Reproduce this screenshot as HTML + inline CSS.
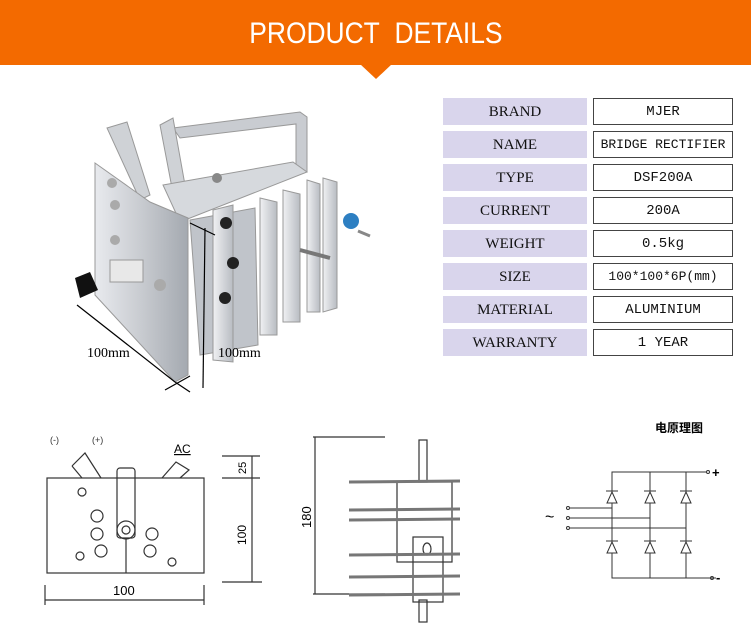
<!DOCTYPE html>
<html><head><meta charset="utf-8"><style>
body{margin:0;width:751px;height:624px;background:#fff;overflow:hidden;position:relative;font-family:"Liberation Sans",sans-serif}
.hdr{position:absolute;left:0;top:0;width:751px;height:65px;background:#f36a00;color:#fff;font-size:30px;text-align:center;line-height:68px}
.hdr span{display:inline-block;transform:scaleX(0.88)}
.notch{position:absolute;left:360px;top:64px;width:0;height:0;border-left:16px solid transparent;border-right:16px solid transparent;border-top:15px solid #f36a00}
.l{position:absolute;left:443px;width:144px;height:27px;background:#d9d5ec;font-family:"Liberation Serif",serif;font-size:15px;text-align:center;line-height:28px;color:#111}
.r{position:absolute;left:593px;width:138px;height:25px;border:1px solid #444;font-family:"Liberation Mono",monospace;font-size:14px;text-align:center;line-height:26px;color:#111;white-space:nowrap}
</style></head><body>
<div class="hdr"><span>PRODUCT&nbsp; DETAILS</span></div><div class="notch"></div>
<div class="l" style="top:98px">BRAND</div><div class="r" style="top:98px">MJER</div>
<div class="l" style="top:131px">NAME</div><div class="r" style="top:131px;font-size:13px">BRIDGE RECTIFIER</div>
<div class="l" style="top:164px">TYPE</div><div class="r" style="top:164px">DSF200A</div>
<div class="l" style="top:197px">CURRENT</div><div class="r" style="top:197px">200A</div>
<div class="l" style="top:230px">WEIGHT</div><div class="r" style="top:230px">0.5kg</div>
<div class="l" style="top:263px">SIZE</div><div class="r" style="top:263px;font-size:13px">100*100*6P(mm)</div>
<div class="l" style="top:296px">MATERIAL</div><div class="r" style="top:296px">ALUMINIUM</div>
<div class="l" style="top:329px">WARRANTY</div><div class="r" style="top:329px">1 YEAR</div>
<svg width="751" height="624" style="position:absolute;left:0;top:0" font-family="Liberation Sans,sans-serif">
<defs><linearGradient id="al" x1="0" x2="1"><stop offset="0" stop-color="#e8eaee"/><stop offset="0.5" stop-color="#c8cbd0"/><stop offset="1" stop-color="#a4a9b0"/></linearGradient>
<linearGradient id="fin" x1="0" x2="1"><stop offset="0" stop-color="#f0f1f3"/><stop offset="1" stop-color="#b8bcc2"/></linearGradient></defs>
<!-- photo -->
<polygon points="173,128 300,112 307,117 307,172 296,172 296,124 180,138" fill="#c9ccd1" stroke="#999"/>
<polygon points="107,128 127,122 150,195 140,200" fill="#cfd2d6" stroke="#999"/>
<polygon points="160,125 173,118 185,185 172,188" fill="#cfd2d6" stroke="#999"/>
<polygon points="323,178 337,182 337,308 323,312" fill="url(#fin)" stroke="#999"/>
<polygon points="307,180 320,184 320,312 307,312" fill="url(#fin)" stroke="#999"/>
<polygon points="283,190 300,194 300,322 283,322" fill="url(#fin)" stroke="#999"/>
<polygon points="260,198 277,202 277,335 260,335" fill="url(#fin)" stroke="#999"/>
<polygon points="190,220 255,208 258,345 200,355" fill="#c0c4ca" stroke="#999"/>
<polygon points="213,210 233,205 233,362 213,360" fill="url(#fin)" stroke="#999"/>
<polygon points="163,185 293,162 307,172 180,222" fill="#d6d9dd" stroke="#999"/>
<polygon points="95,163 150,202 188,218 188,375 175,382 95,295" fill="url(#al)" stroke="#999"/>
<circle cx="112" cy="183" r="5" fill="#aaa"/><circle cx="115" cy="205" r="5" fill="#aaa"/><circle cx="115" cy="240" r="5" fill="#aaa"/><circle cx="160" cy="285" r="6" fill="#aaa"/>
<circle cx="217" cy="178" r="5" fill="#888"/>
<circle cx="226" cy="223" r="6" fill="#222"/><circle cx="233" cy="263" r="6" fill="#222"/><circle cx="225" cy="298" r="6" fill="#222"/>
<line x1="300" y1="250" x2="330" y2="258" stroke="#777" stroke-width="4"/>
<circle cx="351" cy="221" r="8" fill="#2d7fc2"/><line x1="358" y1="231" x2="370" y2="236" stroke="#888" stroke-width="3"/>
<rect x="110" y="260" width="33" height="22" fill="#e8e8e8" stroke="#999"/>
<polygon points="75,278 90,272 98,290 80,298" fill="#111"/>
<g stroke="#000" stroke-width="1.2"><line x1="77" y1="305" x2="175" y2="382"/><line x1="165" y1="390" x2="190" y2="376"/><line x1="175" y1="382" x2="190" y2="392"/><line x1="205" y1="228" x2="203" y2="388"/><line x1="190" y1="223" x2="215" y2="235"/></g>
<text x="87" y="357" font-size="14" font-family="Liberation Serif,serif">100mm</text>
<text x="218" y="357" font-size="14" font-family="Liberation Serif,serif">100mm</text>
<g stroke="#333" fill="none" stroke-width="1.2">
<!-- left drawing -->
<rect x="47" y="478" width="157" height="95"/>
<polyline points="72,466 85,453 101,478"/><polyline points="72,466 82,478"/>
<rect x="117" y="468" width="18" height="70" rx="3"/><circle cx="126" cy="530" r="9"/><circle cx="126" cy="530" r="4"/>
<line x1="126" y1="538" x2="126" y2="573"/>
<polyline points="162,478 176,462 189,470 180,478"/>
<line x1="45" y1="600" x2="204" y2="600"/><line x1="45" y1="585" x2="45" y2="605"/><line x1="204" y1="585" x2="204" y2="605"/>
<line x1="222" y1="456" x2="260" y2="456"/><line x1="222" y1="478" x2="260" y2="478"/><line x1="222" y1="582" x2="262" y2="582"/>
<line x1="252" y1="456" x2="252" y2="582"/>
<circle cx="97" cy="534" r="6"/><circle cx="97" cy="516" r="6"/><circle cx="152" cy="534" r="6"/><circle cx="101" cy="551" r="6"/><circle cx="150" cy="551" r="6"/><circle cx="82" cy="492" r="4"/><circle cx="81" cy="573" r="0"/><circle cx="80" cy="556" r="4"/><circle cx="172" cy="572" r="0"/><circle cx="172" cy="562" r="4"/>
<!-- middle -->
<line x1="313" y1="437" x2="385" y2="437"/><line x1="313" y1="594" x2="385" y2="594"/><line x1="315" y1="437" x2="315" y2="594"/>
<rect x="397" y="482" width="55" height="80"/><rect x="413" y="537" width="30" height="65"/><rect x="419" y="440" width="8" height="42"/><rect x="419" y="600" width="8" height="22"/>
<ellipse cx="427" cy="549" rx="4" ry="6"/>
</g>
<g stroke="#777" stroke-width="3">
<line x1="349" y1="482" x2="460" y2="481"/><line x1="349" y1="510" x2="460" y2="509"/><line x1="349" y1="555" x2="460" y2="554"/><line x1="349" y1="577" x2="460" y2="576"/><line x1="349" y1="595" x2="460" y2="594"/><line x1="349" y1="520" x2="460" y2="519"/>
</g>
<g fill="#333" font-size="9"><text x="50" y="443">(-)</text><text x="92" y="443">(+)</text></g>
<text x="174" y="453" font-size="12" text-decoration="underline">AC</text>
<text x="113" y="595" font-size="13">100</text>
<text transform="translate(246,474) rotate(-90)" font-size="11">25</text>
<text transform="translate(246,545) rotate(-90)" font-size="12">100</text>
<text transform="translate(311,528) rotate(-90)" font-size="13">180</text>
<!-- circuit -->
<text x="655" y="432" font-size="12" font-family="Noto Sans CJK SC,sans-serif" font-weight="bold">电原理图</text>
<g stroke="#333" fill="none">
<polyline points="706,472 612,472 612,578 716,578"/>
<line x1="650" y1="472" x2="650" y2="578"/><line x1="686" y1="472" x2="686" y2="578"/>
<polyline points="570,508 612,508"/><polyline points="570,518 650,518"/><polyline points="570,528 686,528"/>
<circle cx="568" cy="508" r="1.5"/><circle cx="568" cy="518" r="1.5"/><circle cx="568" cy="528" r="1.5"/><circle cx="708" cy="472" r="1.5"/><circle cx="712" cy="578" r="1.5"/>
<g fill="#fff"><polygon points="607,503 617,503 612,492"/><polygon points="645,503 655,503 650,492"/><polygon points="681,503 691,503 686,492"/>
<polygon points="607,553 617,553 612,542"/><polygon points="645,553 655,553 650,542"/><polygon points="681,553 691,553 686,542"/></g>
<line x1="606" y1="491" x2="618" y2="491"/><line x1="644" y1="491" x2="656" y2="491"/><line x1="680" y1="491" x2="692" y2="491"/>
<line x1="606" y1="541" x2="618" y2="541"/><line x1="644" y1="541" x2="656" y2="541"/><line x1="680" y1="541" x2="692" y2="541"/>
</g>
<text x="712" y="477" font-size="13" font-weight="bold">+</text><text x="716" y="582" font-size="13" font-weight="bold">-</text>
<text x="545" y="522" font-size="16">~</text>
</svg>
</body></html>
